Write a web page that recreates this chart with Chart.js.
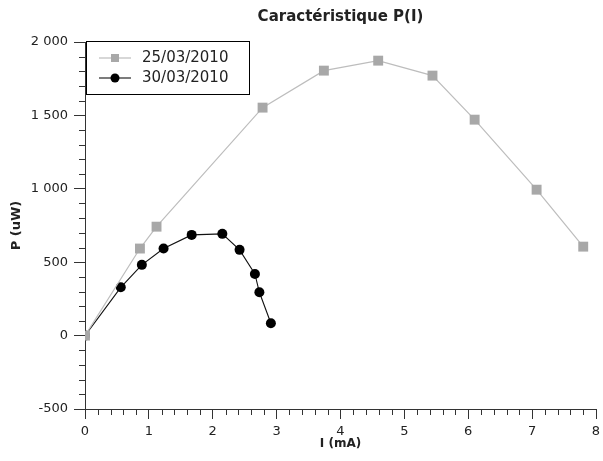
<!DOCTYPE html>
<html>
<head>
<meta charset="utf-8">
<script src="https://cdn.jsdelivr.net/npm/chart.js@4/dist/chart.umd.min.js"></script>
<style>
    body { margin: 0; background: #fff; }
    #wrap { width: 603px; height: 461px; }
</style>
</head>
<body>
<div id="wrap"><canvas id="pChart" width="603" height="461"></canvas></div>
<script>
// Data
const seriesNames = ['25/03/2010', '30/03/2010'];
const current1 = [0, 0.86, 1.12, 2.78, 3.74, 4.59, 5.44, 6.10, 7.07, 7.80]; // mA
const power1 = [0, 593, 742, 1553, 1805, 1873, 1771, 1471, 994, 606];    // uW
const current2 = [0, 0.56, 0.89, 1.23, 1.67, 2.15, 2.42, 2.66, 2.73, 2.91];
const power2 = [0, 329, 482, 593, 686, 693, 584, 420, 295, 84];
const xTicks = [0, 1, 2, 3, 4, 5, 6, 7, 8];
const yTicks = [-500, 0, 500, 1000, 1500, 2000];

const axisColor = '#333';
const textColor = '#222';

function toPoints(xs, ys) {
    return xs.map((x, i) => ({ x: x, y: ys[i] }));
}

function fmt(v) {
    return String(v).replace(/\B(?=(\d{3})+(?!\d))/g, ' ');
}

// minor ticks drawn from the scales + boxed legend
const extras = {
    id: 'extras',
    afterDraw(chart) {
        const ctx = chart.ctx;
        const xs = chart.scales.x, ys = chart.scales.y;
        const area = chart.chartArea;
        ctx.save();
        ctx.strokeStyle = axisColor;
        ctx.lineWidth = 1;
        ctx.beginPath();
        for (let i = 1; i < 40; i++) {
            if (i % 5 === 0) continue;
            const px = Math.round(xs.getPixelForValue(i * 0.2)) + 0.5;
            ctx.moveTo(px, area.bottom);
            ctx.lineTo(px, area.bottom + 6);
        }
        for (let i = 1; i < 25; i++) {
            if (i % 5 === 0) continue;
            const py = Math.round(ys.getPixelForValue(-500 + i * 100)) + 0.5;
            ctx.moveTo(area.left, py);
            ctx.lineTo(area.left - 6, py);
        }
        ctx.stroke();

        // legend
        const bx = 86.5, by = 41.5, bw = 163, bh = 53;
        ctx.fillStyle = '#fff';
        ctx.fillRect(bx, by, bw, bh);
        ctx.strokeStyle = '#000';
        ctx.strokeRect(bx, by, bw, bh);
        const rows = [58, 78];
        chart.data.datasets.forEach((ds, i) => {
            const y = rows[i];
            ctx.strokeStyle = ds.borderColor;
            ctx.lineWidth = ds.borderWidth;
            ctx.beginPath();
            ctx.moveTo(99, y);
            ctx.lineTo(131, y);
            ctx.stroke();
            ctx.fillStyle = ds.pointBackgroundColor;
            if (ds.pointStyle === 'rect') {
                ctx.fillRect(111, y - 4, 8, 8);
            } else {
                ctx.beginPath();
                ctx.arc(115, y, 4.5, 0, Math.PI * 2);
                ctx.fill();
            }
            ctx.fillStyle = textColor;
            ctx.font = '15px "DejaVu Sans"';
            ctx.textBaseline = 'middle';
            ctx.textAlign = 'left';
            ctx.fillText(ds.label, 142, y);
        });
        ctx.restore();
    }
};

const chart = new Chart(document.getElementById('pChart').getContext('2d'), {
    type: 'line',
    data: {
        datasets: [{
            label: seriesNames[0],
            data: toPoints(current1, power1),
            borderColor: '#bdbdbd',
            borderWidth: 1.2,
            pointStyle: 'rect',
            pointRadius: 7,
            pointBackgroundColor: '#a8a8a8',
            pointBorderColor: '#a8a8a8',
            pointBorderWidth: 0,
            tension: 0
        }, {
            label: seriesNames[1],
            data: toPoints(current2, power2),
            borderColor: '#111',
            borderWidth: 1.1,
            pointStyle: 'circle',
            pointRadius: 5,
            pointBackgroundColor: '#000',
            pointBorderColor: '#000',
            pointBorderWidth: 0,
            tension: 0
        }]
    },
    options: {
        responsive: false,
        animation: false,
        layout: { padding: { left: 0, right: 3, top: 0, bottom: 0 } },
        plugins: {
            legend: { display: false },
            tooltip: { enabled: false },
            title: {
                display: true,
                text: 'Caractéristique P(I)',
                fullSize: false,
                color: textColor,
                font: { family: 'DejaVu Sans', size: 15, weight: 'bold' },
                padding: { top: 8, bottom: 16 }
            }
        },
        scales: {
            x: {
                type: 'linear',
                min: 0,
                max: 8,
                afterBuildTicks: s => { s.ticks = xTicks.map(v => ({ value: v })); },
                afterFit: s => { s.height = 52; s.paddingRight = 0; s.paddingLeft = 0; },
                ticks: {
                    color: textColor,
                    font: { family: 'DejaVu Sans', size: 13 },
                    padding: 5,
                    maxRotation: 0,
                    autoSkip: false
                },
                grid: {
                    drawOnChartArea: false,
                    drawTicks: true,
                    tickLength: 10,
                    tickColor: axisColor
                },
                border: { display: true, color: axisColor, width: 1 },
                title: {
                    display: true,
                    text: 'I (mA)',
                    color: textColor,
                    font: { family: 'DejaVu Sans', size: 12, weight: 'bold' },
                    padding: { top: 2, bottom: 10 }
                }
            },
            y: {
                type: 'linear',
                min: -500,
                max: 2000,
                afterBuildTicks: s => { s.ticks = yTicks.map(v => ({ value: v })); },
                afterFit: s => { s.width = 85; },
                ticks: {
                    color: textColor,
                    font: { family: 'DejaVu Sans', size: 13 },
                    padding: 6,
                    callback: v => fmt(v)
                },
                grid: {
                    drawOnChartArea: false,
                    drawTicks: true,
                    tickLength: 11,
                    tickColor: axisColor
                },
                border: { display: true, color: axisColor, width: 1 },
                title: {
                    display: true,
                    text: 'P (uW)',
                    color: textColor,
                    font: { family: 'DejaVu Sans', size: 13, weight: 'bold' },
                    padding: { top: 9, bottom: 2 }
                }
            }
        }
    },
    plugins: [extras]
});
</script>
</body>
</html>
